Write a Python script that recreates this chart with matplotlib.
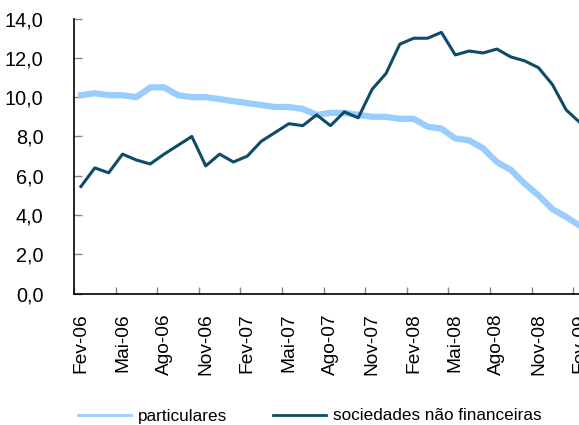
import matplotlib
matplotlib.use("Agg")
import matplotlib.pyplot as plt
import numpy as np

plt.rcParams['font.family'] = ['Liberation Sans', 'DejaVu Sans']

months = ["Fev", "Mar", "Abr", "Mai", "Jun", "Jul", "Ago", "Set", "Out", "Nov", "Dez", "Jan"]
years = ["06", "07", "08", "09"]
categories = []
for k in range(37):
    m = (k) % 12
    y = (k + 1) // 12
    categories.append(f"{months[m]}-{years[y]}")

particulares = [10.1, 10.2, 10.1, 10.1, 10.0, 10.5, 10.5, 10.1, 10.0, 10.0,
                9.9, 9.8, 9.7, 9.6, 9.5, 9.5, 9.4, 9.1, 9.2, 9.2,
                9.1, 9.0, 9.0, 8.9, 8.9, 8.5, 8.4, 7.9, 7.8, 7.4,
                6.7, 6.3, 5.6, 5.0, 4.3, 3.9, 3.45]
sociedades = [5.45, 6.4, 6.15, 7.1, 6.8, 6.6, 7.1, 7.55, 8.0, 6.5,
              7.1, 6.7, 7.0, 7.75, 8.2, 8.65, 8.55, 9.1, 8.55, 9.25,
              8.95, 10.4, 11.2, 12.7, 13.0, 13.0, 13.3, 12.15, 12.35, 12.25,
              12.45, 12.05, 11.85, 11.5, 10.65, 9.35, 8.7]
yticks = [0, 2, 4, 6, 8, 10, 12, 14]

W, H = 579, 425
fig = plt.figure(figsize=(W / 100, H / 100), dpi=100)
left, right, top, bottom = 74, 587, 18.6, 293.6
ax = fig.add_axes([left / W, 1 - bottom / H, (right - left) / W, (bottom - top) / H])

x = np.arange(len(categories)) + 0.5
l1, = ax.plot(x, particulares, color="#99CCFF", lw=4.5, solid_joinstyle="round",
              label="particulares", zorder=2)
l2, = ax.plot(x, sociedades, color="#0F4C68", lw=2.2, solid_joinstyle="round",
              label="sociedades não financeiras", zorder=3)

ax.set_xlim(0, len(categories))
ax.set_ylim(0, 14)
ax.set_yticks(yticks)
ax.set_yticklabels([f"{v:.1f}".replace(".", ",") for v in yticks], fontsize=14.3)
ax.set_xticks(np.arange(0, len(categories) + 1, 3))
ax.set_xticklabels([])
ax.set_xticks(x[::3], minor=True)
ax.set_xticklabels(categories[::3], minor=True, rotation=90, fontsize=13.8)
ax.tick_params(axis="x", which="minor", length=0, pad=14)
ax.tick_params(axis="x", which="major", direction="in", length=5, color="#888888", width=1)
ax.tick_params(axis="y", direction="in", length=6, color="#888888", width=1, pad=22)
ax.spines["top"].set_visible(False)
ax.spines["right"].set_visible(False)
ax.spines["left"].set_linewidth(1.2)
ax.spines["bottom"].set_linewidth(1.2)

leg = fig.legend(handles=[l1, l2], loc="center left",
                 bbox_to_anchor=(78 / W, 1 - 416 / H), ncol=2, frameon=False,
                 fontsize=12.3, handlelength=3.1, handletextpad=0.4,
                 columnspacing=2.7, borderpad=0, borderaxespad=0)
for h in leg.get_lines():
    h.set_linewidth(2.0)

fig.savefig("out.png", dpi=100)
